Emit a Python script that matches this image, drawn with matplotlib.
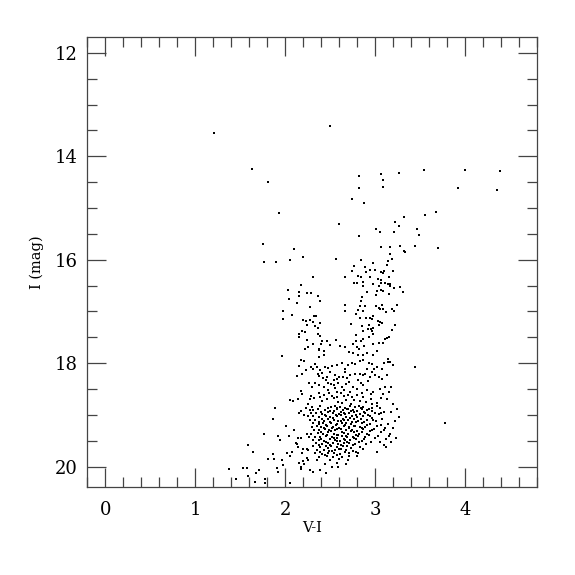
import numpy as np
import matplotlib
matplotlib.use("Agg")
import matplotlib.pyplot as plt
from matplotlib.ticker import MultipleLocator

# ---------------- DATA (V-I, I) ---------------- #

# bright / sparse stars at the top
bright = [
    (1.21, 13.54), (2.50, 13.42), (1.63, 14.24), (1.81, 14.49), (1.93, 15.09),
    (1.75, 15.70), (2.10, 15.79), (2.82, 14.39), (2.82, 14.62), (2.74, 14.83),
    (2.88, 14.90), (3.07, 14.34), (3.09, 14.46), (3.09, 14.60), (3.26, 14.33),
    (3.54, 14.27), (4.00, 14.26), (4.39, 14.28), (3.92, 14.62), (4.36, 14.66),
    (3.55, 15.13), (3.68, 15.08), (3.32, 15.18), (3.22, 15.27), (3.27, 15.35),
    (3.01, 15.40), (3.05, 15.46), (3.21, 15.46), (3.47, 15.40), (3.49, 15.52),
    (2.60, 15.30), (2.82, 15.55), (3.06, 15.75), (3.16, 15.76), (3.28, 15.74),
    (3.44, 15.74), (3.70, 15.77), (3.44, 18.07), (3.78, 19.16),
]

# blue side of the diagram
blue = [
    (1.76, 16.04), (1.90, 16.04), (2.05, 16.01), (2.03, 16.59), (2.15, 16.62),
    (2.15, 16.70), (2.04, 16.75), (2.13, 16.83), (1.97, 16.99), (2.07, 17.06),
    (1.98, 17.15), (2.15, 17.43), (2.15, 17.49),
    (1.96, 17.86), (2.17, 17.94), (2.21, 17.96), (2.15, 18.05), (2.23, 18.13),
    (2.19, 18.21), (2.13, 18.25), (2.26, 18.38), (2.18, 18.53), (2.19, 18.60),
    (2.05, 18.71), (2.09, 18.73), (2.14, 18.70), (2.27, 18.70), (2.25, 18.78),
    (1.89, 18.87), (2.23, 18.86), (2.27, 18.90), (2.18, 18.93), (2.15, 18.97),
    (2.21, 19.00), (2.25, 19.03), (1.86, 19.08),
    (1.38, 20.05), (1.45, 20.24), (1.53, 20.02), (1.58, 20.03), (1.59, 19.58),
    (1.64, 19.72), (1.59, 20.19), (1.66, 20.30), (1.68, 20.13), (1.71, 20.06),
    (1.76, 19.36), (1.77, 20.24), (1.77, 20.31), (1.81, 19.85), (1.86, 19.76),
    (1.87, 19.86), (1.92, 19.41), (1.94, 19.49), (1.96, 19.88), (1.91, 20.03),
    (1.92, 20.10), (1.98, 19.97), (2.01, 19.21), (2.04, 19.40), (2.02, 19.74),
    (2.05, 19.79), (2.05, 20.32), (2.10, 19.29), (2.12, 19.55), (2.14, 19.45),
    (2.14, 19.63), (2.17, 20.05), (2.17, 20.01), (2.19, 19.74), (2.21, 19.94),
    (2.24, 19.36), (2.24, 19.66), (2.24, 19.83), (2.18, 19.44), (2.26, 19.42),
    (2.13, 19.57), (2.20, 19.66), (2.25, 19.68), (2.07, 19.71), (2.15, 19.93),
    (2.20, 19.89), (2.25, 19.87),
]

# giant branch
giants = [
    (3.32, 15.83), (3.33, 15.85), (3.17, 15.88), (3.19, 15.98), (2.84, 16.01),
    (2.56, 15.98), (2.20, 15.95), (3.14, 16.03), (3.13, 16.10), (2.77, 16.12),
    (2.89, 16.14), (2.98, 16.07), (2.94, 16.19), (2.74, 16.21), (2.90, 16.23),
    (3.00, 16.19), (3.07, 16.23), (3.09, 16.25), (3.10, 16.21), (3.20, 16.22),
    (2.81, 16.31), (2.84, 16.33), (2.67, 16.34), (3.15, 16.33), (2.31, 16.33),
    (2.94, 16.33), (3.03, 16.37), (3.06, 16.39), (2.80, 16.44), (2.77, 16.45),
    (2.86, 16.43), (2.98, 16.46), (3.07, 16.44), (3.11, 16.45), (3.14, 16.47),
    (3.17, 16.46), (2.87, 16.50), (3.17, 16.50), (2.18, 16.49), (3.28, 16.52),
    (3.04, 16.51), (3.21, 16.55), (3.07, 16.59), (3.02, 16.61), (3.09, 16.60),
    (3.15, 16.66), (2.91, 16.62), (3.31, 16.62), (2.24, 16.64), (2.29, 16.64),
    (2.36, 16.71), (2.39, 16.79), (3.01, 16.69), (2.85, 16.72), (2.84, 16.79),
    (2.67, 16.87), (2.89, 16.90), (2.83, 16.89), (3.01, 16.90), (3.04, 16.93),
    (3.08, 16.88), (3.09, 16.95), (3.24, 16.88), (2.28, 16.91), (2.66, 16.99),
    (2.81, 16.97), (2.86, 16.99), (3.05, 16.96), (3.19, 16.95), (3.21, 16.99),
    (3.12, 17.01), (2.79, 17.04), (2.98, 17.08), (2.32, 17.08), (2.34, 17.09),
    (2.97, 17.14), (2.83, 17.13), (2.90, 17.13), (2.94, 17.12), (2.20, 17.17),
    (2.27, 17.17), (2.23, 17.19), (2.31, 17.20), (3.03, 17.19), (3.05, 17.21),
    (3.08, 17.23), (3.04, 17.27), (2.39, 17.22), (2.73, 17.24), (2.24, 17.26),
    (2.33, 17.29), (2.36, 17.31), (2.93, 17.27), (2.85, 17.29), (2.92, 17.33),
    (2.95, 17.33), (2.98, 17.32), (3.22, 17.27), (2.97, 17.37), (2.87, 17.38),
    (2.19, 17.37), (2.22, 17.39), (3.19, 17.36), (2.36, 17.44), (2.39, 17.48),
    (2.79, 17.46), (2.98, 17.44), (2.93, 17.50), (2.86, 17.53), (3.13, 17.52),
    (3.15, 17.50), (3.11, 17.53), (2.24, 17.56), (2.46, 17.57), (2.56, 17.55),
    (2.41, 17.58), (2.40, 17.62), (2.79, 17.57), (2.84, 17.58), (2.98, 17.62),
    (3.04, 17.60), (3.09, 17.60), (2.31, 17.62), (2.75, 17.63), (2.88, 17.66),
    (2.61, 17.67), (2.50, 17.64), (2.66, 17.69), (2.80, 17.68), (2.82, 17.72),
    (2.37, 17.72), (2.25, 17.69), (2.22, 17.73),
    (2.38, 17.75), (2.43, 17.77), (2.43, 17.84), (2.37, 17.88), (2.71, 17.78),
    (2.75, 17.81), (2.81, 17.84), (2.86, 17.85), (2.91, 17.80), (2.98, 17.84),
    (3.02, 17.76), (3.14, 17.92), (3.17, 17.97), (3.20, 18.04),
    (2.29, 18.07), (2.33, 18.02), (2.35, 18.08), (2.31, 18.12), (2.39, 18.13),
    (2.44, 18.07), (2.48, 18.09), (2.52, 18.06), (2.57, 18.04), (2.63, 18.00),
    (2.66, 18.12), (2.70, 18.04), (2.74, 17.99), (2.78, 18.02), (2.83, 17.95),
    (2.87, 17.93), (2.93, 17.99), (2.96, 18.02), (2.99, 18.12), (2.91, 18.12),
    (3.02, 18.08), (3.08, 18.12), (3.10, 18.00), (3.14, 17.98),
    (2.36, 18.20), (2.38, 18.25), (2.41, 18.18), (2.42, 18.29), (2.46, 18.26),
    (2.50, 18.17), (2.54, 18.33), (2.55, 18.22), (2.60, 18.26), (2.64, 18.27),
    (2.67, 18.17), (2.72, 18.22), (2.78, 18.21), (2.83, 18.20), (2.86, 18.23),
    (2.89, 18.21), (2.94, 18.26), (2.96, 18.17), (3.00, 18.22), (3.04, 18.27),
    (3.08, 18.31), (3.13, 18.22),
    (2.30, 18.46), (2.33, 18.38), (2.38, 18.42), (2.43, 18.46), (2.48, 18.38),
    (2.51, 18.40), (2.54, 18.42), (2.55, 18.48), (2.59, 18.38), (2.63, 18.46),
    (2.65, 18.52), (2.68, 18.40), (2.71, 18.36), (2.75, 18.46), (2.80, 18.49),
    (2.84, 18.38), (2.87, 18.43), (2.91, 18.51), (2.98, 18.55), (3.05, 18.49),
    (3.11, 18.46), (3.18, 18.47), (3.15, 18.55),
    (2.29, 18.64), (2.32, 18.68), (2.37, 18.58), (2.39, 18.65), (2.43, 18.62),
    (2.46, 18.70), (2.49, 18.58), (2.52, 18.64), (2.54, 18.68), (2.57, 18.65),
    (2.59, 18.75), (2.62, 18.58), (2.65, 18.64), (2.68, 18.71), (2.70, 18.62),
    (2.74, 18.66), (2.77, 18.71), (2.80, 18.62), (2.83, 18.73), (2.86, 18.65),
    (2.90, 18.75), (2.95, 18.69), (3.02, 18.77), (3.06, 18.68), (3.13, 18.70),
    (3.20, 18.78),
    (2.45, 18.33), (2.58, 18.31), (2.69, 18.29), (2.81, 18.32), (2.92, 18.35),
    (2.47, 18.52), (2.57, 18.55), (2.72, 18.56), (2.85, 18.57), (2.95, 18.60),
    (2.41, 18.74), (2.63, 18.77), (2.73, 18.78), (2.97, 18.79), (3.09, 18.60),
]

# dense faint clump
clump = [
    (2.30, 18.84), (2.39, 18.83), (2.51, 18.85), (2.55, 18.82), (2.61, 18.84),
    (2.67, 18.86), (2.72, 18.83), (2.78, 18.85), (2.82, 18.82), (2.87, 18.84),
    (2.96, 18.86), (3.02, 18.83),
    (2.31, 18.91), (2.36, 18.89), (2.44, 18.90), (2.54, 18.92), (2.58, 18.89),
    (2.64, 18.91), (2.69, 18.88), (2.75, 18.90), (2.80, 18.92), (2.85, 18.89),
    (2.91, 18.90),
    (2.29, 18.97), (2.34, 18.96), (2.41, 18.98), (2.48, 18.95), (2.53, 18.97),
    (2.60, 18.99), (2.65, 18.96), (2.71, 18.97), (2.77, 18.95), (2.83, 18.98),
    (2.89, 18.96), (3.00, 18.97),
    (2.31, 19.03), (2.38, 19.04), (2.45, 19.02), (2.50, 19.04), (2.57, 19.03),
    (2.62, 19.01), (2.68, 19.04), (2.74, 19.03), (2.80, 19.05), (2.86, 19.02),
    (2.94, 19.03),
    (2.28, 19.10), (2.33, 19.09), (2.43, 19.11), (2.47, 19.08), (2.54, 19.10),
    (2.59, 19.12), (2.65, 19.09), (2.70, 19.10), (2.76, 19.08), (2.81, 19.11),
    (2.91, 19.10), (2.98, 19.09),
    (2.31, 19.16), (2.37, 19.17), (2.42, 19.15), (2.51, 19.16), (2.57, 19.18),
    (2.63, 19.15), (2.68, 19.16), (2.73, 19.17), (2.79, 19.14), (2.85, 19.16),
    (2.94, 19.17),
    (2.30, 19.23), (2.35, 19.21), (2.40, 19.24), (2.46, 19.22), (2.53, 19.23),
    (2.60, 19.25), (2.65, 19.22), (2.71, 19.23), (2.78, 19.21), (2.83, 19.24),
    (2.89, 19.23), (3.02, 19.22),
    (2.32, 19.29), (2.38, 19.30), (2.44, 19.28), (2.49, 19.30), (2.55, 19.29),
    (2.62, 19.27), (2.68, 19.30), (2.74, 19.29), (2.80, 19.31), (2.87, 19.28),
    (2.96, 19.29),
    (2.29, 19.36), (2.36, 19.35), (2.42, 19.37), (2.48, 19.34), (2.54, 19.36),
    (2.59, 19.38), (2.65, 19.35), (2.70, 19.36), (2.76, 19.34), (2.82, 19.37),
    (2.91, 19.36),
    (2.33, 19.42), (2.39, 19.43), (2.45, 19.41), (2.52, 19.42), (2.57, 19.44),
    (2.63, 19.41), (2.69, 19.42), (2.75, 19.43), (2.81, 19.40), (2.89, 19.42),
    (2.31, 19.49), (2.37, 19.48), (2.43, 19.50), (2.50, 19.47), (2.55, 19.49),
    (2.61, 19.51), (2.67, 19.48), (2.72, 19.49), (2.79, 19.47), (2.85, 19.50),
    (2.34, 19.55), (2.41, 19.56), (2.47, 19.54), (2.53, 19.55), (2.59, 19.57),
    (2.65, 19.54), (2.71, 19.55), (2.78, 19.56),
    (2.31, 19.61), (2.39, 19.62), (2.45, 19.60), (2.51, 19.61), (2.57, 19.63),
    (2.64, 19.60), (2.69, 19.61), (2.83, 19.62),
    (2.35, 19.68), (2.43, 19.67), (2.49, 19.69), (2.55, 19.68), (2.62, 19.66),
    (2.68, 19.68), (2.75, 19.69),
    (2.33, 19.74), (2.41, 19.75), (2.48, 19.73), (2.54, 19.74), (2.61, 19.76),
    (2.71, 19.74), (2.81, 19.73),
    (2.37, 19.81), (2.46, 19.80), (2.53, 19.82), (2.63, 19.81), (2.80, 19.79),
    (2.35, 19.87), (2.50, 19.88), (2.60, 19.86), (2.70, 19.87),
    (2.44, 19.94), (2.57, 19.93), (2.68, 19.95),
    (3.07, 18.96), (3.18, 18.94), (3.22, 19.12), (3.14, 19.18), (3.07, 19.19),
    (3.17, 19.37), (3.15, 19.41), (3.05, 19.52), (3.18, 19.52), (3.02, 19.71),
    (2.31, 20.10), (2.39, 20.07), (2.45, 20.12), (2.52, 20.00), (2.59, 20.00),
    (2.28, 20.06),
]

# extra clump stars sitting between the ones above
clump_fill = [
    (2.47, 18.87), (2.58, 18.86), (2.70, 18.88), (2.84, 18.86), (2.93, 18.88), (3.05, 18.87),
    (2.40, 18.94), (2.50, 18.93), (2.62, 18.95), (2.73, 18.93), (2.88, 18.94), (2.97, 18.92),
    (3.10, 18.95), (2.44, 19.00), (2.56, 19.01), (2.67, 18.99), (2.79, 19.00), (2.92, 19.01),
    (3.04, 18.99), (2.41, 19.07), (2.53, 19.06), (2.64, 19.07), (2.72, 19.06), (2.84, 19.08),
    (2.96, 19.06), (3.08, 19.07), (2.38, 19.13), (2.50, 19.14), (2.62, 19.12), (2.74, 19.13),
    (2.88, 19.14), (3.01, 19.12), (2.45, 19.20), (2.56, 19.19), (2.67, 19.20), (2.76, 19.21),
    (2.91, 19.19), (3.06, 19.20), (2.43, 19.26), (2.52, 19.25), (2.58, 19.27), (2.71, 19.26),
    (2.85, 19.25), (2.99, 19.27), (3.11, 19.26), (2.40, 19.33), (2.51, 19.32), (2.63, 19.33),
    (2.73, 19.32), (2.85, 19.34), (2.94, 19.32), (3.07, 19.33), (2.46, 19.39), (2.57, 19.38),
    (2.68, 19.40), (2.79, 19.38), (2.93, 19.39), (3.03, 19.40), (2.40, 19.46), (2.54, 19.45),
    (2.65, 19.46), (2.77, 19.45), (2.88, 19.47), (3.00, 19.45), (3.12, 19.46), (2.45, 19.52),
    (2.58, 19.51), (2.69, 19.53), (2.82, 19.52), (2.95, 19.53), (2.38, 19.58), (2.50, 19.59),
    (2.62, 19.58), (2.75, 19.59), (2.90, 19.57), (3.10, 19.59), (2.48, 19.64), (2.60, 19.65),
    (2.73, 19.64), (2.87, 19.65), (2.39, 19.71), (2.52, 19.70), (2.66, 19.72), (2.79, 19.71),
    (2.44, 19.78), (2.58, 19.77), (2.71, 19.79),
    (3.24, 18.88), (3.26, 19.05), (3.20, 19.25), (3.23, 19.45), (3.12, 19.62), (3.10, 19.30),
]

# ---------------- PLOT ---------------- #

plt.rcParams['font.family'] = ['DejaVu Serif']

stars = np.array(bright + blue + giants + clump + clump_fill)
vi = stars[:, 0]
imag = stars[:, 1]

fig = plt.figure(figsize=(5.75, 5.75), dpi=100)
ax = fig.add_axes([0.152, 0.1525, 0.782, 0.7825])

ax.scatter(vi, imag, s=3.5, marker='s', c='black', linewidths=0)

ax.set_xlim(-0.2, 4.8)
ax.set_ylim(20.4, 11.7)

ax.xaxis.set_major_locator(MultipleLocator(1))
ax.xaxis.set_minor_locator(MultipleLocator(0.2))
ax.yaxis.set_major_locator(MultipleLocator(2))
ax.yaxis.set_minor_locator(MultipleLocator(0.5))

ax.tick_params(which='both', direction='in', top=True, right=True,
               color='#444444', width=0.9)
ax.tick_params(which='major', length=13.5, labelsize=13)
ax.tick_params(which='minor', length=7)
ax.tick_params(axis='x', which='major', pad=10)
ax.tick_params(axis='y', which='major', pad=7)

for sp in ax.spines.values():
    sp.set_color('#444444')
    sp.set_linewidth(0.9)

ax.set_xlabel("V-I", fontsize=10.5, labelpad=1)
ax.set_ylabel("I (mag)", fontsize=10.5, labelpad=8)

fig.savefig("out.png", dpi=100)
